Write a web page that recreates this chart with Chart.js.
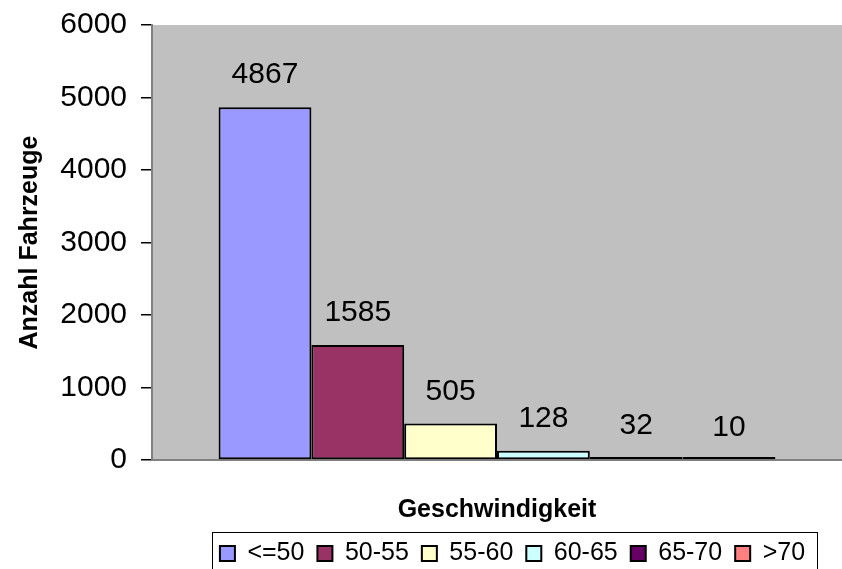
<!DOCTYPE html>
<html>
<head>
<meta charset="utf-8">
<script src="https://cdn.jsdelivr.net/npm/chart.js@4.4.1/dist/chart.umd.min.js"></script>
<style>
  html, body { margin: 0; padding: 0; background: #fff; }
  #wrap { width: 842px; height: 569px; }
</style>
</head>
<body>
<div id="wrap"><canvas id="chart" width="842" height="569"></canvas></div>
<script>
"use strict";

// Speed classes (km/h) and vehicle counts
const classes = ["<=50", "50-55", "55-60", "60-65", "65-70", ">70"];
const counts = [4867, 1585, 505, 128, 32, 10];
const colors = ["#9999FF", "#993366", "#FFFFCC", "#CCFFFF", "#660066", "#FF8080"];
const yTicks = [0, 1000, 2000, 3000, 4000, 5000, 6000];

const FONT = "'Liberation Sans', Arial, sans-serif";
const PLOT_BG = "#C0C0C0";

// grey plot area
const plotBg = {
  id: "plotBg",
  beforeDraw(chart) {
    const a = chart.chartArea, ctx = chart.ctx;
    ctx.save();
    ctx.fillStyle = PLOT_BG;
    ctx.fillRect(a.left, a.top, a.right - a.left, a.bottom - a.top);
    ctx.restore();
  },
};

// value labels above each bar
const valueLabels = {
  id: "valueLabels",
  afterDatasetsDraw(chart) {
    const ctx = chart.ctx;
    const yScale = chart.scales.y;
    ctx.save();
    ctx.font = "30px " + FONT;
    ctx.fillStyle = "#000";
    ctx.textAlign = "center";
    ctx.textBaseline = "middle";
    chart.data.datasets.forEach((ds, i) => {
      const bar = chart.getDatasetMeta(i).data[0];
      ctx.fillText(String(ds.data[0]), bar.x, yScale.getPixelForValue(ds.data[0]) - 32);
    });
    ctx.restore();
  },
};

// move legend to sit under the plot, then box it in
const legendBox = {
  id: "legendBox",
  afterLayout(chart) {
    const lg = chart.legend;
    lg.left = 183;
    lg.top += 7;
    lg.bottom += 7;
  },
  afterDraw(chart) {
    const boxes = chart.legend.legendHitBoxes;
    if (!boxes || !boxes.length) return;
    const x0 = Math.min(...boxes.map((b) => b.left)) - 8;
    const x1 = Math.max(...boxes.map((b) => b.left + b.width)) + 12;
    const ctx = chart.ctx;
    ctx.save();
    ctx.strokeStyle = "#000";
    ctx.lineWidth = 1;
    ctx.strokeRect(Math.round(x0) + 0.5, 532.5, Math.round(x1 - x0), 40);
    ctx.restore();
  },
};

const datasets = classes.map((c, i) => ({
  label: c,
  data: [counts[i]],
  backgroundColor: colors[i],
  borderColor: "#000",
  borderWidth: 2,
  borderSkipped: false,
  minBarLength: 3,
}));

new Chart(document.getElementById("chart"), {
  type: "bar",
  data: { labels: [""], datasets },
  options: {
    responsive: false,
    animation: false,
    layout: { padding: { top: 25, right: 0, bottom: 0, left: 0 } },
    datasets: { bar: { barPercentage: 1, categoryPercentage: 0.807 } },
    plugins: {
      tooltip: { enabled: false },
      legend: {
        position: "bottom",
        labels: {
          color: "#000",
          font: { family: FONT, size: 25 },
          boxWidth: 15,
          boxHeight: 15,
          padding: 13,
          generateLabels(chart) {
            return chart.data.datasets.map((ds, i) => ({
              text: ds.label,
              fillStyle: ds.backgroundColor,
              strokeStyle: "#000",
              lineWidth: 2,
              hidden: false,
              datasetIndex: i,
            }));
          },
        },
      },
    },
    scales: {
      x: {
        afterFit(scale) { scale.height = 569 - 460 - scale.chart.legend.height; },
        ticks: { display: false },
        grid: { display: false },
        border: { display: true, color: "#808080", width: 2 },
        title: {
          display: true,
          text: "Geschwindigkeit",
          color: "#000",
          font: { family: FONT, size: 25, weight: "bold" },
          padding: { top: 0, bottom: -4 },
        },
      },
      y: {
        min: 0,
        max: 6000,
        afterFit(scale) {
          scale.width = 152;
          scale.paddingTop = 0;
          scale.paddingBottom = 0;
        },
        afterBuildTicks(scale) { scale.ticks = yTicks.map((v) => ({ value: v })); },
        ticks: {
          color: "#000",
          padding: 14,
          font: { family: FONT, size: 30 },
          callback: (v) => String(v),
        },
        grid: {
          drawOnChartArea: false,
          drawTicks: true,
          tickLength: 11,
          color: "#000",
          lineWidth: 1.5,
        },
        border: { display: true, color: "#808080", width: 2 },
        title: {
          display: true,
          text: "Anzahl Fahrzeuge",
          color: "#000",
          font: { family: FONT, size: 25, weight: "bold" },
          padding: { top: 15, bottom: 0 },
        },
      },
    },
  },
  plugins: [plotBg, valueLabels, legendBox],
});
</script>
</body>
</html>
